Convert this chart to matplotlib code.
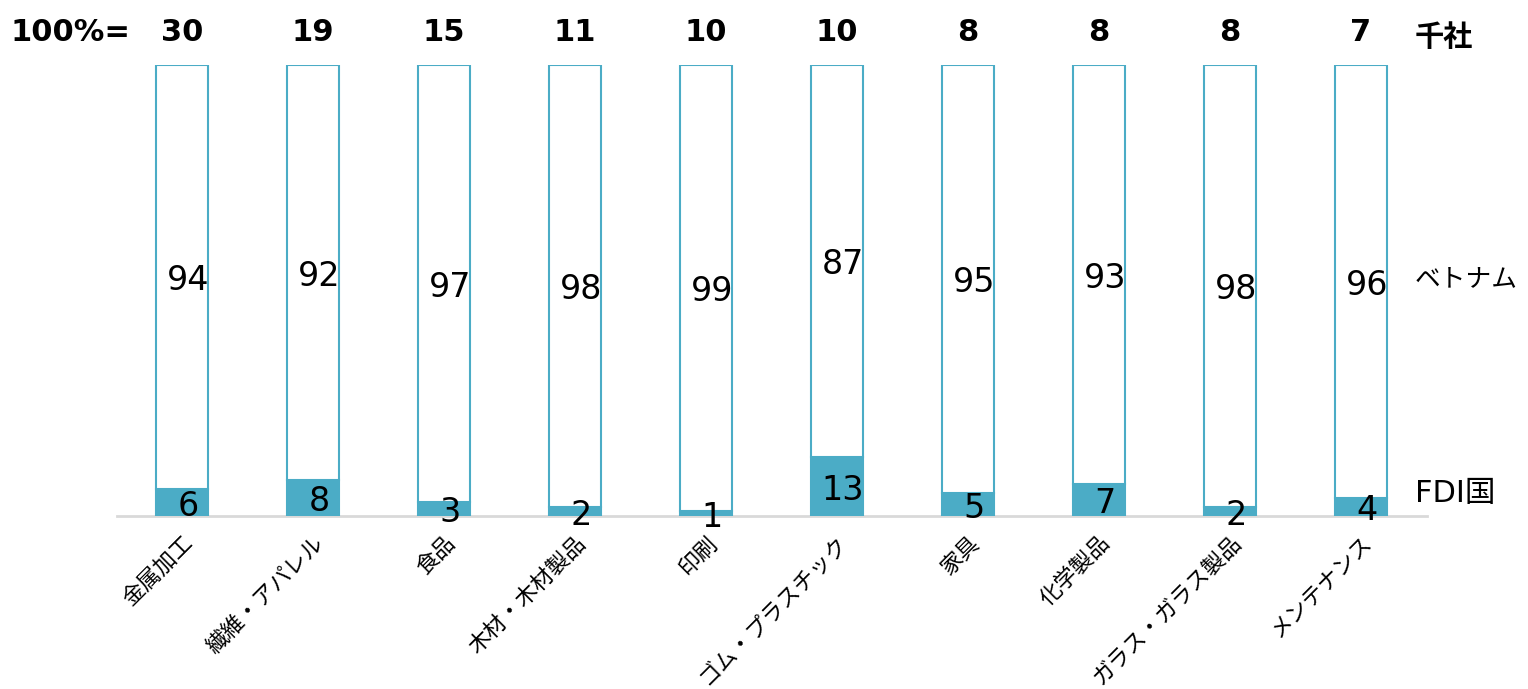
import matplotlib.pyplot as plt
import numpy as np

plt.rcParams['font.family'] = ['Noto Sans CJK JP', 'DejaVu Sans']

# Data
categories = ['金属加工', '繊維・アパレル', '食品', '木材・木材製品', '印刷',
              'ゴム・プラスチック', '家具', '化学製品', 'ガラス・ガラス製品', 'メンテナンス']
totals = [30, 19, 15, 11, 10, 10, 8, 8, 8, 7]
fdi = [6, 8, 3, 2, 1, 13, 5, 7, 2, 4]
vietnam = [94, 92, 97, 98, 99, 87, 95, 93, 98, 96]

teal = '#4BACC6'

fig = plt.figure(figsize=(15.28, 6.89), dpi=100)
ax = fig.add_axes([116.5 / 1528, 173 / 689, 1310 / 1528, 451 / 689])

x = np.arange(len(categories))
w = 0.4
ax.bar(x, fdi, width=w, color=teal, edgecolor=teal, linewidth=1.5)
ax.bar(x, vietnam, width=w, bottom=fdi, color='white', edgecolor=teal, linewidth=1.5)

num_font = ['DejaVu Sans']
for i in range(len(categories)):
    ax.text(x[i] + 0.045, fdi[i] / 2 - 0.8, str(fdi[i]), ha='center', va='center',
            fontsize=24, family=num_font, clip_on=False)
    ax.text(x[i] + 0.045, fdi[i] + vietnam[i] / 2 - 0.8, str(vietnam[i]), ha='center',
            va='center', fontsize=24, family=num_font)
    ax.text(x[i], 107.3, str(totals[i]), ha='center', va='center', fontsize=22,
            fontweight='bold', family=num_font)
    # category labels, rotated under each bar
    ax.text(x[i] + 0.06, -5.2, categories[i], rotation=45, ha='right', va='center',
            rotation_mode='anchor', fontsize=16)

ax.text(-0.85, 107.3, '100%=', ha='center', va='center', fontsize=22,
        fontweight='bold', family=num_font)
ax.text(9.41, 106.3, '千社', ha='left', va='center', fontsize=21, fontweight='bold')
ax.text(9.41, 52.5, 'ベトナム', ha='left', va='center', fontsize=18.5)
ax.text(9.41, 5, 'FDI国', ha='left', va='center', fontsize=22,
        family=['DejaVu Sans', 'Noto Sans CJK JP'])

ax.set_xlim(-0.5, 9.5)
ax.set_ylim(0, 100)
ax.set_xticks([])
ax.set_yticks([])
for s in ['top', 'right', 'left']:
    ax.spines[s].set_visible(False)
ax.spines['bottom'].set_color('#D9D9D9')
ax.spines['bottom'].set_linewidth(2)
ax.spines['bottom'].set_zorder(0)

plt.savefig('out.png', dpi=100)
